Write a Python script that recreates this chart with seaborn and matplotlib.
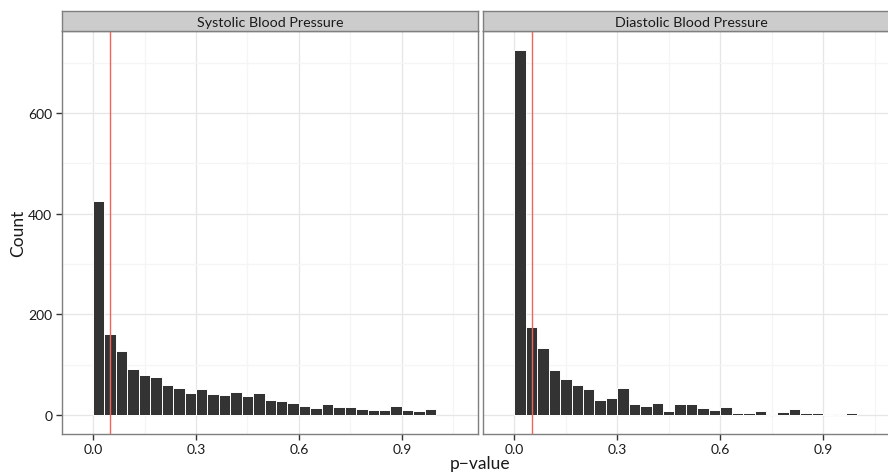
import numpy as np
import pandas as pd
import matplotlib
matplotlib.use("Agg")
import matplotlib.pyplot as plt
import seaborn as sns
from matplotlib.ticker import FixedLocator

# ---- data (counts per bin, 30 bins over [0, 1]) ----
panels = ["Systolic Blood Pressure", "Diastolic Blood Pressure"]
systolic_counts = [426, 161, 127, 91, 79, 75, 59, 53, 43, 51, 41, 39, 45, 37, 43,
                   30, 27, 24, 18, 13, 21, 15, 16, 12, 10, 10, 17, 9, 7, 11]
diastolic_counts = [725, 174, 132, 89, 72, 60, 51, 30, 34, 53, 21, 17, 24, 7, 21,
                    22, 13, 9, 15, 3, 3, 7, 2, 5, 11, 3, 3, 0, 2, 3]
n_bins = 30
bin_centers = [(i + 0.5) / n_bins for i in range(n_bins)]
threshold = 0.05
x_ticks = [0.0, 0.3, 0.6, 0.9]
x_tick_labels = ["0.0", "0.3", "0.6", "0.9"]
y_ticks = [0, 200, 400, 600]

sns.set_theme(style="white")
plt.rcParams["font.family"] = ["Lato", "DejaVu Sans"]

W, H = 888, 477
fig = plt.figure(figsize=(W / 100, H / 100), dpi=100)

def fx(px):
    return px / W

def fy(py):
    return 1 - py / H

panel_w = 416
lefts = [62, 483.3]
top_px, bot_px = 32, 435
strip_top = 11.5

border_col = "#7F7F7F"
for i, (name, counts) in enumerate(zip(panels, [systolic_counts, diastolic_counts])):
    ax = fig.add_axes([fx(lefts[i]), fy(bot_px), panel_w / W, (bot_px - top_px) / H])
    df = pd.DataFrame({"p": bin_centers, "n": counts})
    sns.histplot(data=df, x="p", weights="n", bins=n_bins, binrange=(0, 1),
                 color="#333333", alpha=1, edgecolor="white", linewidth=0.7, ax=ax,
                 zorder=3)
    ax.axvline(threshold, color="#F0645A", lw=1.0, zorder=4)
    ax.set_xlim(-0.0905, 1.122)
    ax.set_ylim(-38, 763)
    ax.set_xticks(x_ticks)
    ax.set_xticklabels(x_tick_labels)
    ax.xaxis.set_minor_locator(FixedLocator([0.15, 0.45, 0.75, 1.05]))
    ax.set_yticks(y_ticks)
    ax.yaxis.set_minor_locator(FixedLocator([100, 300, 500, 700]))
    ax.grid(which="major", color="#E6E6E6", lw=0.9, zorder=0)
    ax.grid(which="minor", color="#F5F5F5", lw=0.9, zorder=0)
    ax.set_axisbelow(True)
    ax.set_facecolor("white")
    for s in ax.spines.values():
        s.set_visible(True)
        s.set_color(border_col)
        s.set_linewidth(1.0)
    ax.tick_params(axis="x", which="major", direction="out", length=4, width=1,
                   color="#333333", labelsize=10, labelcolor="#1A1A1A", pad=2.5, bottom=True)
    ax.tick_params(axis="x", which="minor", length=0)
    ax.tick_params(axis="y", which="minor", length=0)
    if i == 0:
        ax.tick_params(axis="y", which="major", direction="out", length=4, width=1,
                       color="#333333", labelsize=10, labelcolor="#1A1A1A", pad=3, left=True)
    else:
        ax.tick_params(axis="y", which="major", length=0, labelleft=False)
    ax.set_xlabel("")
    ax.set_ylabel("")

    # strip
    sax = fig.add_axes([fx(lefts[i]), fy(top_px), panel_w / W, (top_px - strip_top) / H])
    sax.set_facecolor("#CCCCCC")
    sax.set_xticks([])
    sax.set_yticks([])
    for s in sax.spines.values():
        s.set_visible(True)
        s.set_color(border_col)
        s.set_linewidth(1.0)
    sax.text(0.5, 0.45, name, ha="center", va="center", fontsize=10.3,
             color="#1A1A1A", transform=sax.transAxes)

fig.text(fx(480), fy(464), "p\u2212value", ha="center", va="center", fontsize=12.5,
         color="#1A1A1A")
fig.text(fx(18), fy(233), "Count", ha="center", va="center", rotation=90,
         fontsize=12.5, color="#1A1A1A")

fig.savefig("out.png", dpi=100)
